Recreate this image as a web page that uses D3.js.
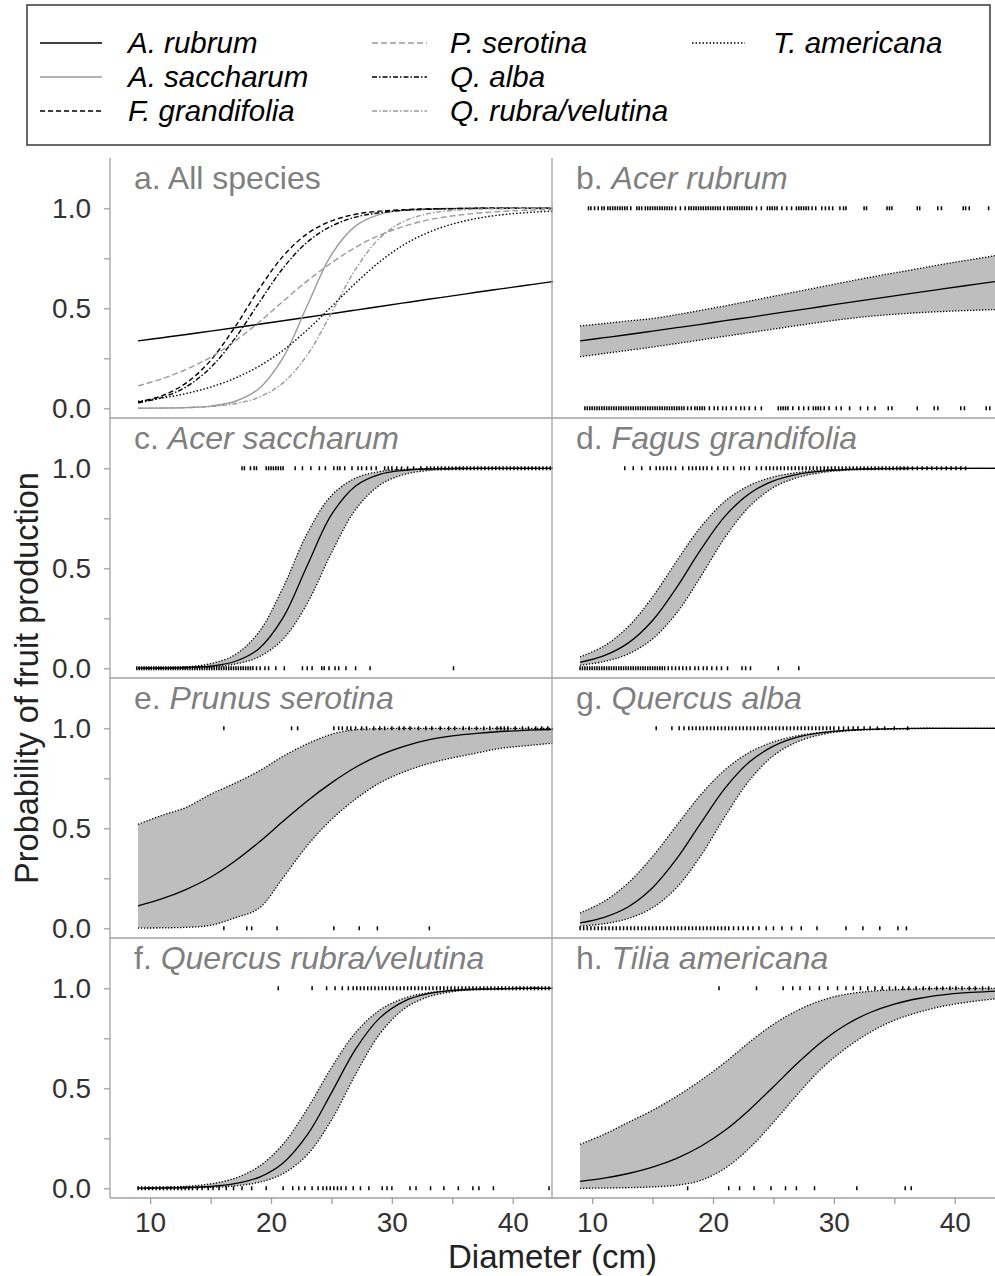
<!DOCTYPE html>
<html>
<head>
<meta charset="utf-8">
<script src="https://cdn.jsdelivr.net/npm/d3@7"></script>
<style>
  body { margin: 0; background: #fff; }
  svg { display: block; font-family: "Liberation Sans", Arial, sans-serif; }
</style>
</head>
<body>
<svg id="fig" width="995" height="1276"></svg>
<script>
// ---- Data -------------------------------------------------------------
// Diameter grid (cm) at which fitted probabilities are given
const diameters = [9, 11, 13, 15, 17, 19, 21, 23, 25, 27, 29, 31, 33, 35, 37, 39, 41, 43, 45];

const legendLabels = ["A. rubrum", "A. saccharum", "F. grandifolia", "P. serotina",
                      "Q. alba", "Q. rubra/velutina", "T. americana"];
const speciesNames = ["Acer rubrum", "Acer saccharum", "Fagus grandifolia", "Prunus serotina",
                      "Quercus alba", "Quercus rubra/velutina", "Tilia americana"];
const panelLetters = ["b", "c", "d", "e", "g", "f", "h"];

const yTickValues = [0, 0.25, 0.5, 0.75, 1];
const yTickLabels = ["0.0", "", "0.5", "", "1.0"];
const xTickValues = [10, 15, 20, 25, 30, 35, 40];
const xTickLabels = ["10", "", "20", "", "30", "", "40"];

// Acer rubrum
const rubrumMean  = [0.337,0.353,0.369,0.386,0.403,0.420,0.438,0.455,0.473,0.491,0.509,0.527,0.545,0.562,0.580,0.597,0.614,0.631,0.647];
const rubrumUpper = [0.412,0.424,0.437,0.449,0.468,0.490,0.512,0.536,0.560,0.584,0.608,0.632,0.655,0.677,0.698,0.720,0.740,0.760,0.780];
const rubrumLower = [0.258,0.274,0.290,0.306,0.324,0.342,0.360,0.378,0.396,0.414,0.431,0.447,0.460,0.470,0.478,0.484,0.489,0.493,0.497];
const rubrumFruit = [9.7,9.9,10.2,10.5,10.8,11.0,11.3,11.5,11.7,11.9,12.1,12.3,12.5,12.7,12.9,13.2,13.7,13.9,14.1,14.4,14.6,14.8,15.0,15.2,15.4,15.6,15.8,16.0,16.2,16.4,16.6,16.9,17.3,17.7,18.0,18.2,18.4,18.6,18.8,19.0,19.2,19.4,19.6,19.8,20.0,20.2,20.4,20.6,20.9,21.2,21.4,21.6,21.8,22.0,22.2,22.4,22.6,22.8,23.0,23.2,23.6,24.0,24.5,24.7,24.9,25.1,25.3,25.7,26.1,26.5,26.9,27.1,27.3,27.5,27.7,27.9,28.2,28.5,29.0,29.3,29.6,29.9,30.5,30.8,31.0,32.5,32.7,34.4,34.6,34.8,36.9,37.1,38.6,38.9,40.7,40.9,41.2,42.8];
const rubrumNoFruit = [9.4,9.6,9.8,10.0,10.2,10.4,10.6,10.8,11.0,11.2,11.4,11.6,11.8,12.0,12.2,12.4,12.6,12.8,13.0,13.2,13.4,13.6,13.8,14.0,14.2,14.4,14.6,14.8,15.0,15.2,15.4,15.6,15.8,16.0,16.2,16.4,16.6,16.8,17.0,17.2,17.4,17.6,17.9,18.2,18.5,18.7,18.9,19.1,19.3,19.7,20.1,20.4,20.8,21.1,21.5,21.9,22.3,22.6,23.0,23.5,24.0,25.4,25.6,25.8,26.0,26.2,26.6,27.1,27.5,27.9,28.3,28.5,28.7,28.9,29.2,29.6,30.2,30.6,31.3,32.2,32.8,33.4,34.5,34.8,36.9,38.3,38.6,40.5,40.8,42.6,42.9];

// Acer saccharum
const saccharumMean  = [0.0004,0.0011,0.0035,0.011,0.034,0.098,0.253,0.514,0.768,0.912,0.970,0.990,0.997,0.999,1,1,1,1,1];
const saccharumUpper = [0.0008,0.0025,0.0076,0.023,0.067,0.181,0.404,0.675,0.864,0.951,0.984,0.995,0.998,1,1,1,1,1,1];
const saccharumLower = [0.0003,0.0009,0.0027,0.0075,0.021,0.057,0.146,0.325,0.577,0.794,0.916,0.969,0.989,0.996,0.999,1,1,1,1];
const saccharumFruit = [17.6,17.8,18.3,18.6,18.8,19.6,19.8,20.0,20.2,20.4,20.6,20.8,21.0,22.0,22.6,23.3,24.0,24.5,25.2,25.5,25.7,26.1,26.7,27.2,27.5,27.9,28.3,28.7,29.4,29.7,30.0,30.4,30.8,31.3,31.8,32.4,32.9,33.2,33.5,33.8,34.1,34.4,34.7,35.0,35.3,35.6,35.9,36.2,36.5,36.8,37.1,37.4,37.7,38.0,38.3,38.6,38.9,39.2,39.5,39.8,40.1,40.4,40.7,41.0,41.3,41.6,41.9,42.2,42.5,42.8,43.1];
const saccharumNoFruit = [8.9,9.1,9.3,9.5,9.7,9.9,10.1,10.3,10.5,10.7,10.9,11.1,11.3,11.5,11.7,11.9,12.1,12.3,12.5,12.7,12.9,13.1,13.3,13.5,13.7,13.9,14.1,14.3,14.5,14.7,14.9,15.1,15.3,15.5,15.7,15.9,16.1,16.3,16.5,16.7,16.9,17.1,17.3,17.5,17.7,17.9,18.1,18.3,18.5,18.8,19.1,19.5,19.8,20.4,21.1,22.6,23.0,23.4,24.2,24.4,24.8,25.3,25.6,26.2,27.0,28.2,35.1];

// Fagus grandifolia
const fagusMean  = [0.030,0.063,0.127,0.239,0.405,0.595,0.761,0.873,0.937,0.970,0.986,0.993,0.997,0.9985,1,1,1,1,1];
const fagusUpper = [0.057,0.112,0.209,0.357,0.537,0.708,0.836,0.914,0.957,0.979,0.990,0.995,0.998,1,1,1,1,1,1];
const fagusLower = [0.015,0.034,0.072,0.147,0.277,0.460,0.655,0.808,0.904,0.954,0.979,0.990,0.996,0.998,1,1,1,1,1];
const fagusFruit = [12.7,13.4,14.1,14.8,15.3,15.6,15.9,16.2,16.5,16.9,17.5,18.0,18.3,18.6,18.9,19.2,19.5,19.9,20.4,20.9,21.2,21.7,22.3,22.6,23.0,23.6,24.0,24.4,24.7,25.0,25.3,25.6,25.9,26.2,26.5,26.8,27.1,27.4,27.7,28.0,28.3,28.6,28.9,29.2,29.5,29.8,30.1,30.4,30.7,31.0,31.3,31.6,31.9,32.2,32.5,32.8,33.1,33.4,33.7,34.0,34.3,34.6,34.9,35.2,35.5,35.8,36.1,36.5,36.9,37.3,37.7,38.1,38.5,38.9,39.3,39.7,40.1,40.5,40.9];
const fagusNoFruit = [9.0,9.2,9.4,9.6,9.8,10.0,10.2,10.4,10.6,10.8,11.0,11.2,11.4,11.6,11.8,12.0,12.2,12.4,12.6,12.8,13.0,13.2,13.4,13.6,13.8,14.0,14.2,14.4,14.6,14.8,15.0,15.2,15.4,15.6,15.8,16.0,16.3,16.6,16.9,17.2,17.5,17.8,18.1,18.5,18.8,19.2,19.5,19.9,20.3,20.7,21.2,22.4,22.7,23.1,25.4,27.1];

// Prunus serotina
const prunusMean  = [0.112,0.148,0.195,0.255,0.335,0.430,0.535,0.637,0.727,0.805,0.866,0.910,0.942,0.962,0.975,0.984,0.990,0.994,0.996];
const prunusUpper = [0.52,0.565,0.605,0.67,0.725,0.786,0.86,0.922,0.97,0.993,0.998,1,1,1,1,1,1,1,1];
const prunusLower = [0.001,0.002,0.005,0.015,0.052,0.10,0.253,0.414,0.544,0.646,0.727,0.782,0.823,0.852,0.876,0.90,0.912,0.924,0.935];
const prunusFruit = [16.1,21.7,22.2,25.2,25.6,25.9,26.3,26.6,27.0,27.5,27.9,28.5,29.0,29.4,30.0,30.6,31.0,31.5,32.2,32.8,33.3,34.0,34.7,35.2,35.9,36.4,37.0,37.6,38.1,38.7,39.0,39.3,39.6,40.2,40.8,41.3,41.9,42.4,42.9];
const prunusNoFruit = [16.1,18.0,18.4,20.5,25.2,27.3,28.8,33.1];

// Quercus alba
const albaMean  = [0.027,0.055,0.108,0.203,0.348,0.527,0.701,0.831,0.911,0.956,0.978,0.990,0.995,0.998,1,1,1,1,1];
const albaUpper = [0.076,0.135,0.228,0.359,0.515,0.669,0.793,0.879,0.932,0.963,0.980,0.989,0.994,0.997,0.9985,1,1,1,1];
const albaLower = [0.010,0.023,0.049,0.103,0.204,0.364,0.560,0.739,0.863,0.933,0.969,0.986,0.9936,0.997,1,1,1,1,1];
const albaFruit = [15.3,16.6,17.2,17.6,18.0,18.3,18.6,18.9,19.2,19.5,19.8,20.1,20.4,20.7,21.0,21.3,21.6,21.9,22.2,22.5,22.8,23.1,23.4,23.7,24.0,24.3,24.6,24.9,25.2,25.5,25.8,26.1,26.4,26.7,27.0,27.3,27.6,27.9,28.2,28.5,28.8,29.1,29.4,29.7,30.0,30.4,30.8,31.2,31.6,32.0,32.5,33.0,33.6,34.2,35.0,36.1];
const albaNoFruit = [9.0,9.3,9.6,9.9,10.2,10.5,10.8,11.1,11.4,11.7,12.0,12.3,12.6,12.9,13.2,13.5,13.8,14.1,14.4,14.7,15.0,15.3,15.6,15.9,16.2,16.5,16.8,17.1,17.4,17.7,18.0,18.3,18.6,18.9,19.2,19.5,19.8,20.1,20.4,20.7,21.0,21.3,21.7,22.1,22.5,22.9,23.3,23.8,24.4,25.0,25.7,26.5,27.3,28.6,31.0,32.4,33.8,35.3,36.0];

// Quercus rubra/velutina
const rubraMean  = [0.0006,0.0015,0.0036,0.009,0.023,0.055,0.127,0.267,0.477,0.696,0.852,0.935,0.973,0.989,0.9956,0.998,1,1,1];
const rubraUpper = [0.0018,0.0042,0.0098,0.022,0.050,0.109,0.221,0.397,0.603,0.779,0.891,0.950,0.978,0.990,0.996,0.998,1,1,1];
const rubraLower = [0.0003,0.0007,0.0018,0.0047,0.012,0.030,0.073,0.168,0.341,0.570,0.772,0.897,0.957,0.983,0.993,0.997,1,1,1];
const rubraFruit = [20.6,23.4,24.6,25.3,25.9,26.4,26.8,27.1,27.4,27.7,28.0,28.3,28.6,28.9,29.2,29.5,29.8,30.1,30.4,30.7,31.0,31.3,31.6,31.9,32.2,32.5,32.8,33.1,33.4,33.7,34.0,34.3,34.6,34.9,35.2,35.5,35.8,36.1,36.4,36.7,37.0,37.3,37.6,37.9,38.2,38.5,38.8,39.1,39.4,39.7,40.0,40.3,40.6,40.9,41.2,41.5,41.8,42.1,42.4,42.7,43.0];
const rubraNoFruit = [9.0,9.3,9.6,9.9,10.2,10.5,10.8,11.1,11.4,11.7,12.0,12.3,12.6,12.9,13.2,13.5,13.9,14.3,14.8,15.2,15.7,16.3,16.9,17.6,18.4,19.6,21.0,21.8,22.3,22.8,23.4,23.9,24.3,24.6,24.9,25.2,25.5,25.8,26.2,26.8,27.4,28.1,29.2,29.6,30.0,31.5,32.0,33.2,34.3,35.5,36.7,37.2,38.4,43.0];

// Tilia americana
const tiliaMean  = [0.035,0.051,0.074,0.106,0.150,0.210,0.290,0.392,0.508,0.626,0.733,0.818,0.879,0.921,0.949,0.967,0.978,0.985,0.990];
const tiliaUpper = [0.22,0.27,0.33,0.39,0.46,0.54,0.63,0.73,0.82,0.89,0.94,0.97,0.985,0.993,0.997,1,1,1,1];
const tiliaLower = [0.0,0.001,0.003,0.007,0.015,0.04,0.10,0.20,0.33,0.47,0.60,0.70,0.78,0.84,0.88,0.91,0.93,0.945,0.955];
const tiliaFruit = [20.5,23.6,25.8,26.6,27.2,28.0,28.8,29.5,30.3,31.0,31.6,32.2,32.8,33.4,34.0,34.6,35.1,35.7,36.2,36.8,37.4,37.9,38.5,39.0,39.6,40.1,40.6,41.2,41.7,42.3,42.8];
const tiliaNoFruit = [17.9,21.3,22.2,23.4,24.8,26.0,26.9,28.4,31.9,35.9,36.4];

// ---- Assemble per-species records -----------------------------------------
const means  = [rubrumMean, saccharumMean, fagusMean, prunusMean, albaMean, rubraMean, tiliaMean];
const uppers = [rubrumUpper, saccharumUpper, fagusUpper, prunusUpper, albaUpper, rubraUpper, tiliaUpper];
const lowers = [rubrumLower, saccharumLower, fagusLower, prunusLower, albaLower, rubraLower, tiliaLower];
const fruits = [rubrumFruit, saccharumFruit, fagusFruit, prunusFruit, albaFruit, rubraFruit, tiliaFruit];
const noFruits = [rubrumNoFruit, saccharumNoFruit, fagusNoFruit, prunusNoFruit, albaNoFruit, rubraNoFruit, tiliaNoFruit];

const species = legendLabels.map((lab, i) => ({
  label: lab,
  name: speciesNames[i],
  letter: panelLetters[i],
  curve: diameters.map((d, j) => ({ d, p: means[i][j], lo: lowers[i][j], hi: uppers[i][j] })),
  fruit: fruits[i],
  noFruit: noFruits[i]
}));

// ---- Styles for the combined panel & legend ------------------------------
const black = "#000", grey = "#9a9a9a";
const seriesStyle = [
  { stroke: black, dash: null },          // A. rubrum
  { stroke: grey,  dash: null },          // A. saccharum
  { stroke: black, dash: "5,3" },         // F. grandifolia
  { stroke: grey,  dash: "6,3" },         // P. serotina
  { stroke: black, dash: "5,2,1.5,2" },   // Q. alba
  { stroke: grey,  dash: "5,2,1.5,2" },   // Q. rubra/velutina
  { stroke: black, dash: "1.5,2" }        // T. americana
];
const smooth = d3.curveCatmullRom.alpha(0.5);

// ---- Layout ---------------------------------------------------------------
const svg = d3.select("#fig");
svg.append("rect").attr("width", 995).attr("height", 1276).attr("fill", "#fff");

const colLeft = [110, 552];
const colWidth = 443;
const rowTop0 = 158, rowH = 260;
const xDomain = [6.68, 43.33];
const axisGrey = "#a0a0a0";
const textDark = "#333";
const titleGrey = "#7f7f7f";

// panel positions: letter -> [column, row]
const panelPos = { a: [0, 0], b: [1, 0], c: [0, 1], d: [1, 1], e: [0, 2], g: [1, 2], f: [0, 3], h: [1, 3] };

function scalesFor(letter) {
  const [c, r] = panelPos[letter];
  const top = rowTop0 + r * rowH;
  const x = d3.scaleLinear().domain(xDomain).range([colLeft[c], colLeft[c] + colWidth]);
  const y = d3.scaleLinear().domain([0, 1]).range([top + 250.3, top + 50.3]);
  return { x, y, c, r, top, left: colLeft[c], right: colLeft[c] + colWidth, bottom: top + rowH };
}

const defs = svg.append("defs");

function makeClip(letter, s) {
  defs.append("clipPath").attr("id", "clip-" + letter)
    .append("rect").attr("x", s.left).attr("y", s.top)
    .attr("width", s.right - s.left).attr("height", s.bottom - s.top);
}

function panelTitle(s, letter, plain, italic) {
  const t = svg.append("text")
    .attr("x", s.left + 24).attr("y", s.top + 31)
    .attr("font-size", 32).attr("fill", titleGrey);
  t.append("tspan").text(letter + ". " + (plain || ""));
  if (italic) t.append("tspan").attr("font-style", "italic").text(italic);
}

// ---- Panel a: all species --------------------------------------------------
{
  const s = scalesFor("a");
  makeClip("a", s);
  const g = svg.append("g").attr("clip-path", "url(#clip-a)");
  const line = d3.line().x(d => s.x(d.d)).y(d => s.y(d.p)).curve(smooth);
  species.forEach((sp, i) => {
    g.append("path").datum(sp.curve)
      .attr("d", line)
      .attr("fill", "none")
      .attr("stroke", seriesStyle[i].stroke)
      .attr("stroke-width", 1.4)
      .attr("stroke-dasharray", seriesStyle[i].dash);
  });
  panelTitle(s, "a", "All species", null);
}

// ---- Panels b-h: one species each ----------------------------------------
species.forEach(sp => {
  const s = scalesFor(sp.letter);
  makeClip(sp.letter, s);
  const g = svg.append("g").attr("clip-path", "url(#clip-" + sp.letter + ")");

  const band = d3.area().x(d => s.x(d.d)).y0(d => s.y(d.lo)).y1(d => s.y(d.hi)).curve(smooth);
  const mid = d3.line().x(d => s.x(d.d)).y(d => s.y(d.p)).curve(smooth);
  const loLine = d3.line().x(d => s.x(d.d)).y(d => s.y(d.lo)).curve(smooth);
  const hiLine = d3.line().x(d => s.x(d.d)).y(d => s.y(d.hi)).curve(smooth);

  g.append("path").datum(sp.curve).attr("d", band).attr("fill", "#bebebe");
  [loLine, hiLine].forEach(fn => {
    g.append("path").datum(sp.curve).attr("d", fn)
      .attr("fill", "none").attr("stroke", "#000")
      .attr("stroke-width", 1.3).attr("stroke-dasharray", "1.3,1.7");
  });

  // observed trees: fruiting (1) and not fruiting (0)
  const rug = (vals, p) => g.append("g").selectAll("line").data(vals).join("line")
      .attr("x1", d => s.x(d)).attr("x2", d => s.x(d))
      .attr("y1", s.y(p) - 2).attr("y2", s.y(p) + 2)
      .attr("stroke", "#000").attr("stroke-width", 1.5);
  rug(sp.fruit, 1);
  rug(sp.noFruit, 0);

  g.append("path").datum(sp.curve).attr("d", mid)
    .attr("fill", "none").attr("stroke", "#000").attr("stroke-width", 1.3);

  panelTitle(s, sp.letter, "", sp.name);
});

// ---- Frame lines -------------------------------------------------------------
const frame = svg.append("g").attr("stroke", axisGrey).attr("stroke-width", 1.3);
colLeft.forEach(xv => frame.append("line").attr("x1", xv).attr("x2", xv)
  .attr("y1", rowTop0).attr("y2", rowTop0 + 4 * rowH));
for (let r = 1; r <= 4; r++) {
  frame.append("line").attr("x1", colLeft[0]).attr("x2", 995)
    .attr("y1", rowTop0 + r * rowH).attr("y2", rowTop0 + r * rowH);
}

// ---- Axes ------------------------------------------------------------------------
function styleAxis(sel) {
  sel.select(".domain").remove();
  sel.selectAll(".tick line").attr("stroke", axisGrey).attr("stroke-width", 1.3);
  sel.selectAll(".tick text").attr("fill", textDark).attr("font-size", 28)
    .attr("font-family", "Liberation Sans, Arial, sans-serif");
}

["a", "c", "e", "f"].forEach(letter => {
  const s = scalesFor(letter);
  const ax = d3.axisLeft(s.y).tickValues(yTickValues)
    .tickFormat((d, i) => yTickLabels[i]).tickSize(6).tickPadding(13);
  svg.append("g").attr("transform", `translate(${s.left},0)`).call(ax).call(styleAxis);
});

["f", "h"].forEach(letter => {
  const s = scalesFor(letter);
  const ax = d3.axisBottom(s.x).tickValues(xTickValues)
    .tickFormat((d, i) => xTickLabels[i]).tickSize(6).tickPadding(8);
  svg.append("g").attr("transform", `translate(0,${s.bottom})`).call(ax).call(styleAxis);
});

// ---- Axis titles -------------------------------------------------------------
svg.append("text")
  .attr("x", (colLeft[0] + 995) / 2).attr("y", 1268)
  .attr("text-anchor", "middle").attr("font-size", 33).attr("fill", "#222")
  .text("Diameter (cm)");

svg.append("text")
  .attr("transform", `translate(38,${rowTop0 + 2 * rowH}) rotate(-90)`)
  .attr("text-anchor", "middle").attr("font-size", 32.5).attr("fill", "#222")
  .text("Probability of fruit production");

// ---- Legend ------------------------------------------------------------------------
svg.append("rect").attr("x", 27).attr("y", 5).attr("width", 963).attr("height", 140)
  .attr("fill", "#fff").attr("stroke", "#444").attr("stroke-width", 1.6);

const legendCols = [{ x1: 40, x2: 102, tx: 128 }, { x1: 372, x2: 427, tx: 450 }, { x1: 692, x2: 745, tx: 773 }];
const legendRows = [43, 77, 111];
const legendSlots = [[0, 0], [0, 1], [0, 2], [1, 0], [1, 1], [1, 2], [2, 0]];

legendLabels.forEach((lab, i) => {
  const [c, r] = legendSlots[i];
  const col = legendCols[c], yv = legendRows[r];
  svg.append("line").attr("x1", col.x1).attr("x2", col.x2).attr("y1", yv).attr("y2", yv)
    .attr("stroke", seriesStyle[i].stroke).attr("stroke-width", 1.4)
    .attr("stroke-dasharray", seriesStyle[i].dash);
  svg.append("text").attr("x", col.tx).attr("y", yv + 10)
    .attr("font-size", 29.5).attr("font-style", "italic").attr("fill", "#000")
    .text(lab);
});
</script>
</body>
</html>
